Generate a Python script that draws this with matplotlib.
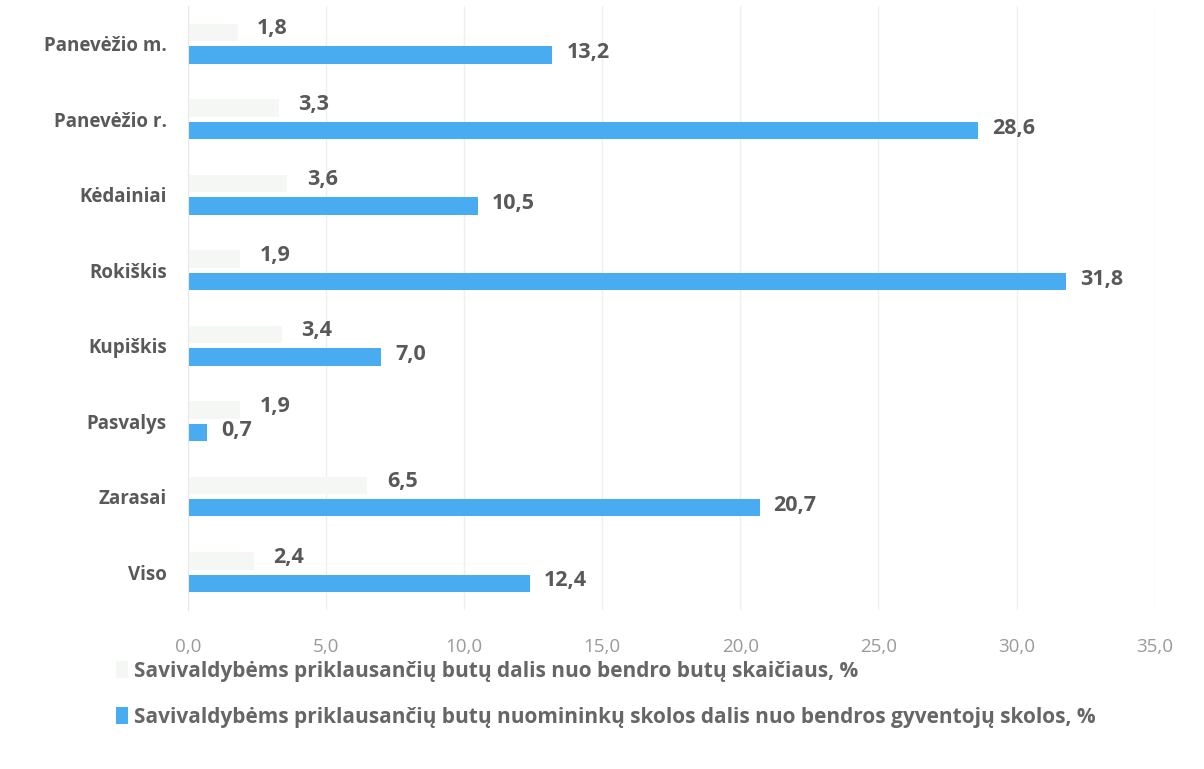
import matplotlib
matplotlib.use("Agg")
import matplotlib.pyplot as plt
import numpy as np

categories = ["Panevėžio m.", "Panevėžio r.", "Kėdainiai", "Rokiškis",
              "Kupiškis", "Pasvalys", "Zarasai", "Viso"]
share_flats = [1.8, 3.3, 3.6, 1.9, 3.4, 1.9, 6.5, 2.4]
share_debt = [13.2, 28.6, 10.5, 31.8, 7.0, 0.7, 20.7, 12.4]
xticks = [0, 5, 10, 15, 20, 25, 30, 35]
legend_labels = ["Savivaldybėms priklausančių butų dalis nuo bendro butų skaičiaus, %",
                 "Savivaldybėms priklausančių butų nuomininkų skolos dalis nuo bendros gyventojų skolos, %"]

plt.rcParams['font.family'] = ['Open Sans', 'DejaVu Sans']

fig = plt.figure(figsize=(12.04, 7.69), dpi=100)
ax = fig.add_axes([0.156, 0.207, 0.803, 0.785])

TEXT = "#595959"
BLUE = "#4aacf0"
FAINT = "#f5f7f5"

y = np.arange(len(categories))
h = 0.23
off = 0.148
b1 = ax.barh(y - off, share_flats, height=h, color=FAINT, label=legend_labels[0], zorder=2)
b2 = ax.barh(y + off, share_debt, height=h, color=BLUE, label=legend_labels[1], zorder=2)

def fmt(v):
    return f"{v:.1f}".replace(".", ",")

for yi, v in zip(y, share_flats):
    ax.annotate(fmt(v), (v, yi - off - 0.05), xytext=(14, 0), textcoords="offset points",
                ha="left", va="center", fontsize=15.5, fontweight="bold", color=TEXT)
for yi, v in zip(y, share_debt):
    ax.annotate(fmt(v), (v, yi + off - 0.03), xytext=(10, 0), textcoords="offset points",
                ha="left", va="center", fontsize=15.5, fontweight="bold", color=TEXT)

ax.set_ylim(len(categories) - 0.5, -0.5)
ax.set_xlim(0, 35)
ax.set_yticks(y)
ax.set_yticklabels(categories, fontsize=13.5, fontweight="bold", color=TEXT)
ax.set_xticks(xticks)
ax.set_xticklabels([fmt(t) for t in xticks], fontsize=13.5, color="#9a9a9a")
ax.tick_params(axis="both", length=0)
ax.tick_params(axis="x", pad=20)
ax.tick_params(axis="y", pad=15)
ax.grid(axis="x", color="#efefef", linewidth=1, zorder=0)
for s in ["top", "right", "bottom"]:
    ax.spines[s].set_visible(False)
ax.spines["left"].set_color("#e8e8e8")

leg = fig.legend(handles=[b1, b2], labels=legend_labels, loc="upper left",
                 bbox_to_anchor=(0.081, 0.165), frameon=False, ncol=1,
                 handlelength=0.55, handleheight=0.85, handletextpad=0.3,
                 labelspacing=1.2, prop={'size': 15, 'weight': 'bold'})
for t in leg.get_texts():
    t.set_color("#666666")

fig.savefig("out.png", dpi=100, facecolor="white")
